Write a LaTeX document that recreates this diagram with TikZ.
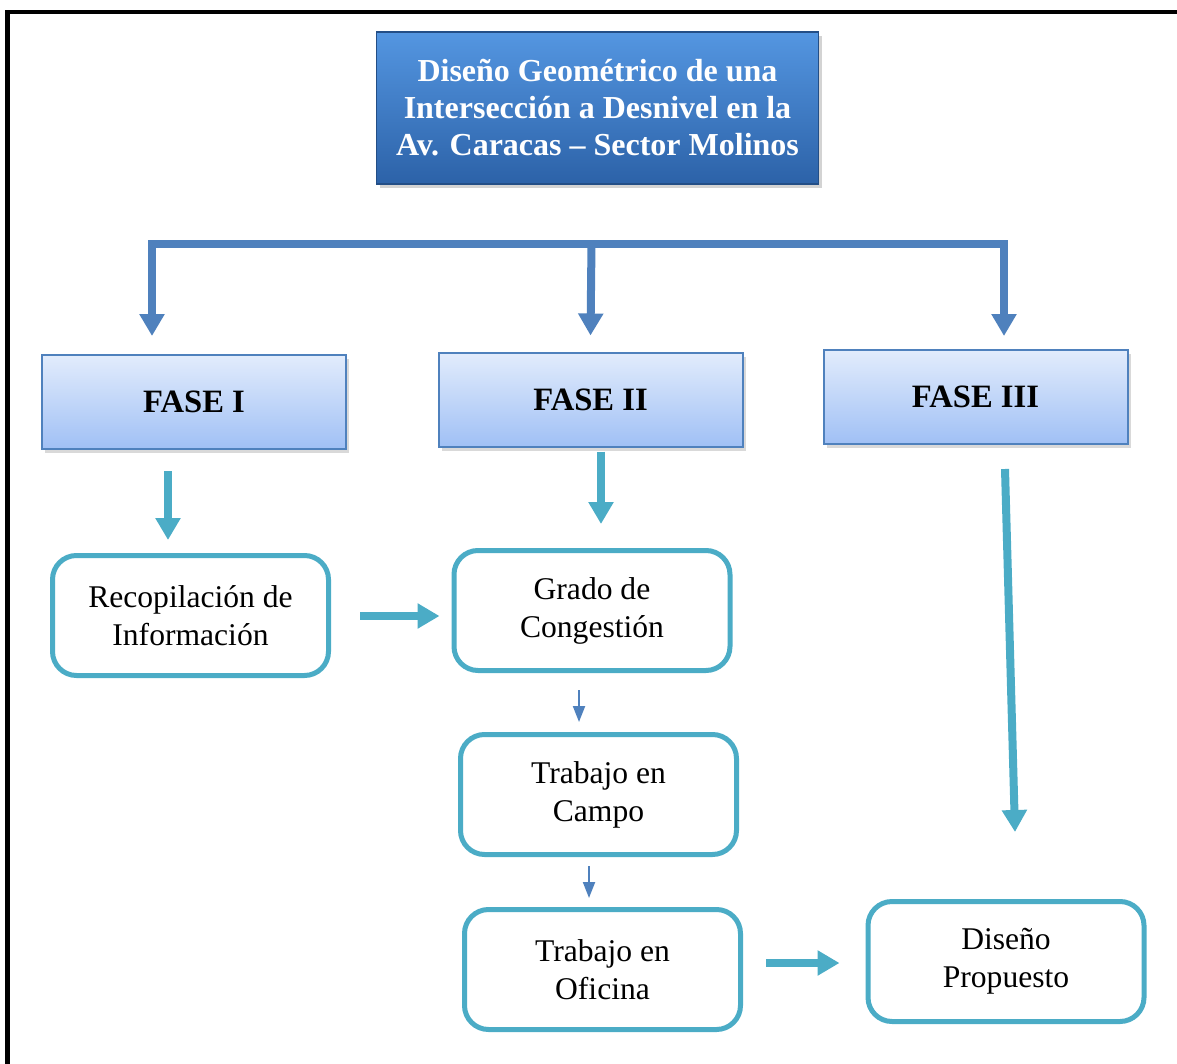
\documentclass[tikz,border=0pt]{standalone}
\usepackage{fontspec}
\setmainfont{Liberation Serif}
\usepackage{xcolor}
\usepackage{tikz}
\usetikzlibrary{calc}
\usetikzlibrary{arrows.meta,positioning,shadows}

\definecolor{barblue}{RGB}{79,129,189}
\definecolor{tealc}{RGB}{75,172,198}
\definecolor{titletop}{RGB}{84,150,225}
\definecolor{titlebot}{RGB}{44,98,168}
\definecolor{phasetop}{RGB}{226,236,252}
\definecolor{phasebot}{RGB}{160,192,245}

\tikzset{
	titlebox/.style={draw=titlebot!80!black,line width=0.8pt,top color=titletop,bottom color=titlebot,
		minimum width=221pt,minimum height=76pt,align=center,text=white,
		font=\bfseries\fontsize{16}{18.5}\selectfont,
		drop shadow={opacity=0.35,shadow xshift=1.5pt,shadow yshift=-2pt}},
	phasebox/.style={draw=barblue,line width=1pt,top color=phasetop,bottom color=phasebot,
		minimum width=152pt,minimum height=47pt,font=\bfseries\fontsize{16.3}{18}\selectfont,
		drop shadow={opacity=0.3,shadow xshift=1.5pt,shadow yshift=-2pt}},
	stepbox/.style={draw=tealc,line width=2.5pt,rounded corners=12pt,fill=white,
		minimum width=138pt,minimum height=60pt,align=center,
		font=\fontsize{15.8}{19}\selectfont},
	bigarrow/.style={draw=barblue,line width=4pt,line join=miter,-{Triangle[width=12pt,length=11pt]}},
	tealarrow/.style={draw=tealc,line width=4pt,-{Triangle[width=12pt,length=11pt]}},
	smallarrow/.style={draw=barblue,line width=1pt,-{Triangle[width=6pt,length=8pt]}}
}

\begin{document}
\begin{tikzpicture}[x=0.5pt,y=-0.5pt]
	\useasboundingbox (0,0) rectangle (1177,1064);
	% frame
	\draw[line width=2.2pt] (7.5,1080) -- (7.5,12) -- (1190,12);

	\node[titlebox] (title) at (597.5,108) {Diseño Geométrico de una\\Intersección a Desnivel en la\\Av. Caracas -- Sector Molinos};

	\node[phasebox] (fase1) at (194,402) {FASE I};
	\node[phasebox] (fase2) at (590.5,399.5) {FASE II};
	\node[phasebox] (fase3) at (975.5,397) {FASE III};

	\node[stepbox] (recop) at (190.5,615.5) {Recopilación de\\Información};
	\node[stepbox] (grado) at (592,610.5) {Grado de\\Congestión};
	\node[stepbox] (campo) at (598.5,794.5) {Trabajo en\\Campo};
	\node[stepbox] (oficina) at (602.5,969.5) {Trabajo en\\Oficina};
	\node[stepbox] (diseno) at (1006,961.5) {Diseño\\Propuesto};

	% bar under the title
	\coordinate (bar) at ($(title.south)+(-6,59)$);
	\draw[bigarrow] (bar) -| ($(fase1.north)+(-42,-18)$);
	\draw[bigarrow] (bar) -| ($(fase3.north)+(28.5,-13)$);
	\draw[bigarrow] (bar) -- ($(fase2.north)+(0,-16)$);

	\draw[tealarrow] ($(fase1.south)+(-26,21)$) -- ($(recop.north)+(-22.5,-13)$);
	\draw[tealarrow] ($(fase2.south)+(10.5,4)$) -- ($(grado.north)+(9,-24)$);
	\draw[tealarrow] ($(fase3.south)+(29.5,24)$) -- ($(diseno.north)+(9,-67)$);
	\draw[tealarrow] ($(recop.east)+(29,0.5)$) -- ($(grado.west)+(-12,5.5)$);
	\draw[tealarrow] ($(oficina.east)+(23,-6.5)$) -- ($(diseno.west)+(-26,1.5)$);

	\draw[smallarrow] ($(grado.south)+(-13,17)$) -- ($(campo.north)+(-19.5,-10)$);
	\draw[smallarrow] ($(campo.south)+(-9.5,9)$) -- ($(oficina.north)+(-13.5,-9)$);
\end{tikzpicture}
\end{document}
